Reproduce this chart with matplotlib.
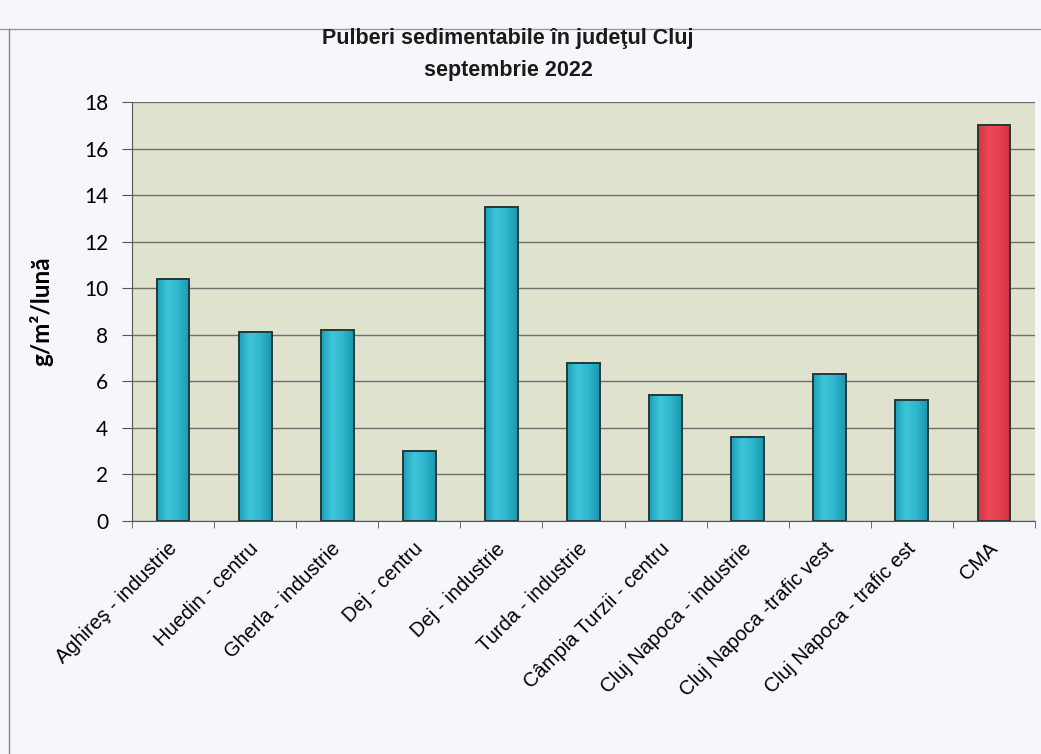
import matplotlib.pyplot as plt
import matplotlib.transforms as mtransforms
import numpy as np
from matplotlib.colors import LinearSegmentedColormap

plt.rcParams["font.family"] = ["Liberation Sans", "DejaVu Sans"]

STATIONS = [
    "Aghireş - industrie",
    "Huedin - centru",
    "Gherla - industrie",
    "Dej - centru",
    "Dej - industrie",
    "Turda - industrie",
    "Câmpia Turzii - centru",
    "Cluj Napoca - industrie",
    "Cluj Napoca -trafic vest",
    "Cluj Napoca - trafic est",
    "CMA",
]
VALUES = [10.4, 8.1, 8.2, 3.0, 13.5, 6.8, 5.4, 3.6, 6.3, 5.2, 17.0]
Y_TICKS = [0, 2, 4, 6, 8, 10, 12, 14, 16, 18]

TEAL_CMAP = LinearSegmentedColormap.from_list("teal", ["#1c9fb8", "#3fc6da", "#2fb6cc", "#1a97ae"])
RED_CMAP = LinearSegmentedColormap.from_list("red", ["#d83444", "#ec4a58", "#e4414f", "#d3303f"])
EDGE = "#22393c"
PLOT_BG = "#dfe3cd"
FIG_BG = "#f5f7fa"
CALIBRI_LIKE = ["Lato", "DejaVu Sans"]

fig = plt.figure(figsize=(10.41, 7.54), dpi=100, facecolor=FIG_BG)
ax = fig.add_axes([0.1268, 0.309, 0.8674, 0.5557])
ax.set_facecolor(PLOT_BG)

x = np.arange(len(STATIONS))
bars = ax.bar(x, VALUES, width=0.4, color="none", edgecolor=EDGE, linewidth=1.4, zorder=4)

# horizontal shading inside each bar
grad = np.linspace(0, 1, 64).reshape(1, -1)
for name, bar in zip(STATIONS, bars):
    cmap = RED_CMAP if name == "CMA" else TEAL_CMAP
    x0, w, h = bar.get_x(), bar.get_width(), bar.get_height()
    im = ax.imshow(grad, cmap=cmap, aspect="auto", extent=(x0, x0 + w, 0, h),
                   interpolation="bicubic", zorder=3)
    im.set_clip_path(bar)

ax.set_xlim(-0.5, len(STATIONS) - 0.5)
ax.set_ylim(0, 18)
ax.set_yticks(Y_TICKS)
ax.set_yticklabels([str(t) for t in Y_TICKS], family=CALIBRI_LIKE, fontsize=15)
ax.tick_params(axis="y", length=7, color="#555555", pad=10)
ax.grid(axis="y", color="#6e6e6e", linewidth=1.0, zorder=1)
ax.set_axisbelow(True)

# labels at categories, ticks at the category boundaries
ax.set_xticks(x)
ax.set_xticklabels(STATIONS, rotation=45, ha="right", rotation_mode="anchor", fontsize=14.5)
ax.tick_params(axis="x", which="major", length=0, pad=8)
ax.set_xticks(np.arange(-0.5, len(STATIONS)), minor=True)
ax.tick_params(axis="x", which="minor", length=5, color="#555555")
shift = mtransforms.ScaledTranslation(-0.06, -0.07, fig.dpi_scale_trans)
for lbl in ax.get_xticklabels():
    lbl.set_transform(lbl.get_transform() + shift)

for side in ("top", "right"):
    ax.spines[side].set_visible(False)
for side in ("left", "bottom"):
    ax.spines[side].set_color("#555555")

ax.set_ylabel("g/m²/lună", family=CALIBRI_LIKE, fontsize=17.5, fontweight="bold", labelpad=22)

fig.text(0.488, 0.949, "Pulberi sedimentabile în judeţul Cluj", ha="center", va="center",
         fontsize=15.5, fontweight="bold", color="#1a1a1a")
fig.text(0.488, 0.907, "septembrie 2022", ha="center", va="center",
         fontsize=15.5, fontweight="bold", color="#1a1a1a")

# chart frame
fig.add_artist(plt.Line2D([0.0, 1.0], [0.962, 0.962], color="#9a9a9a", linewidth=1.0))
fig.add_artist(plt.Line2D([0.009, 0.009], [0.0, 0.962], color="#888888", linewidth=1.0))

fig.savefig("out.png", dpi=100, facecolor=FIG_BG)
